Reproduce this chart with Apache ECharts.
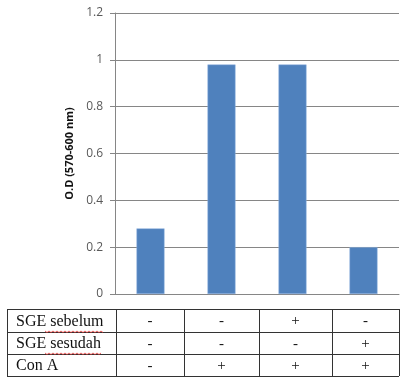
<!DOCTYPE html>
<html>
<head>
<meta charset="utf-8">
<script src="https://cdn.jsdelivr.net/npm/echarts@6/dist/echarts.min.js"></script>
<style>
  html, body { margin: 0; padding: 0; background: #fff; }
  #chart { width: 403px; height: 378px; }
</style>
</head>
<body>
<div id="chart"></div>
<script>
// data
var categories = ['A', 'B', 'C', 'D'];
var odValues = [0.28, 0.98, 0.98, 0.2];
var yTicks = [0, 0.2, 0.4, 0.6, 0.8, 1, 1.2];
var rowLabels = ['SGE sebelum', 'SGE sesudah', 'Con A'];
var rowSebelum = ['-', '-', '+', '-'];
var rowSesudah = ['-', '-', '-', '+'];
var rowConA = ['-', '+', '+', '+'];

// table layout
var colX = [7, 116, 184, 259, 332, 399];
var rowY = [309, 332, 354, 376];

var chart = echarts.init(document.getElementById('chart'));

function wavy(x0, x1, y) {
    var pts = [];
    var up = true;
    for (var x = x0; x <= x1; x += 2) {
        pts.push([x, up ? y : y + 1.6]);
        up = !up;
    }
    return {
        type: 'polyline',
        shape: { points: pts },
        style: { stroke: '#e03030', lineWidth: 0.8, fill: null },
        silent: true
    };
}

var graphics = [];
// outer border and grid lines
for (var i = 0; i < rowY.length; i++) {
    graphics.push({
        type: 'line',
        shape: { x1: colX[0], y1: rowY[i] + 0.5, x2: colX[colX.length - 1], y2: rowY[i] + 0.5 },
        style: { stroke: '#333', lineWidth: 1 }
    });
}
for (var j = 0; j < colX.length; j++) {
    graphics.push({
        type: 'line',
        shape: { x1: colX[j] + 0.5, y1: rowY[0], x2: colX[j] + 0.5, y2: rowY[rowY.length - 1] },
        style: { stroke: '#333', lineWidth: 1 }
    });
}
var rows = [rowSebelum, rowSesudah, rowConA];
for (var r = 0; r < rows.length; r++) {
    var cy = (rowY[r] + rowY[r + 1]) / 2 + 1;
    graphics.push({
        type: 'text',
        style: {
            text: rowLabels[r], x: colX[0] + 9, y: cy,
            fill: '#111', font: '16px "Liberation Serif"',
            textAlign: 'left', textVerticalAlign: 'middle'
        }
    });
    for (var c = 0; c < rows[r].length; c++) {
        var cx = (colX[c + 1] + colX[c + 2]) / 2;
        graphics.push({
            type: 'text',
            style: {
                text: rows[r][c], x: cx, y: cy,
                fill: '#111', font: '15px "Liberation Serif"',
                textAlign: 'center', textVerticalAlign: 'middle'
            }
        });
    }
}
// spell-check underlines
graphics.push(wavy(45, 104, 331));
graphics.push(wavy(45, 102, 353));

var option = {
    backgroundColor: '#fff',
    animation: false,
    grid: { left: 115, right: 4, top: 13, bottom: 84, containLabel: false },
    xAxis: {
        type: 'category',
        data: categories,
        axisLine: { lineStyle: { color: '#868686', width: 1 } },
        axisTick: { show: false },
        axisLabel: { show: false }
    },
    yAxis: {
        type: 'value',
        min: yTicks[0],
        max: yTicks[yTicks.length - 1],
        interval: 0.2,
        name: 'O.D (570-600 nm)',
        nameLocation: 'middle',
        nameRotate: 90,
        nameGap: 35,
        nameTextStyle: { color: '#111', fontSize: 11, fontWeight: 'bold', fontFamily: 'Open Sans' },
        axisLine: { show: true, lineStyle: { color: '#868686', width: 1 } },
        axisTick: { show: true, length: 5, lineStyle: { color: '#868686' } },
        axisLabel: {
            color: '#595959', fontSize: 12, margin: 12, fontFamily: 'Open Sans',
            formatter: function (v) { return String(Math.round(v * 10) / 10); }
        },
        splitLine: { show: true, lineStyle: { color: '#868686', width: 1 } }
    },
    series: [{
        type: 'bar',
        data: odValues,
        barWidth: 28,
        itemStyle: { color: '#4F81BD', borderColor: '#8fb3e0', borderWidth: 0.5 }
    }],
    graphic: graphics
};

chart.setOption(option);
</script>
</body>
</html>
